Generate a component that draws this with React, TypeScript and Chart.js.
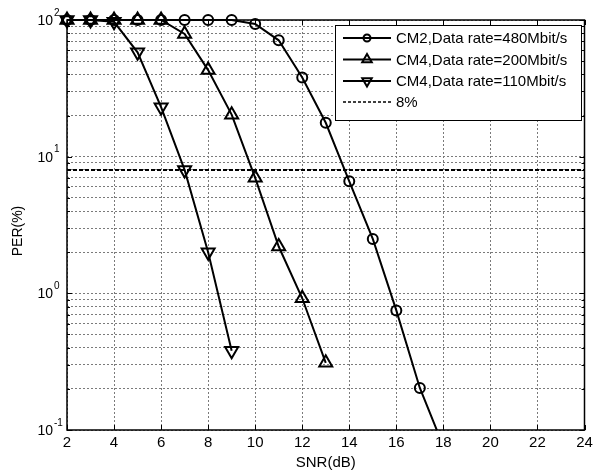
import React, { useEffect, useRef } from 'react';
import { Chart, registerables } from 'chart.js';

Chart.register(...registerables);

// SNR (dB) sample points and packet error rate (%) per configuration
const snrCm2 = [2, 3, 4, 5, 6, 7, 8, 9, 10, 11, 12, 13, 14, 15, 16, 17, 18];
const perCm2Rate480 = [100, 100, 100, 100, 100, 100, 100, 100, 93.5, 71, 38, 17.7, 6.6, 2.5, 0.75, 0.203, 0.076];

const snrCm4Rate200 = [2, 3, 4, 5, 6, 7, 8, 9, 10, 11, 12, 13];
const perCm4Rate200 = [100, 100, 100, 100, 100, 79, 43, 20.3, 7.0, 2.2, 0.92, 0.31];

const snrCm4Rate110 = [2, 3, 4, 5, 6, 7, 8, 9];
const perCm4Rate110 = [100, 100, 97, 58, 23, 8.0, 2.0, 0.38];

const thresholdPer = 8;

const xMin = 2;
const xMax = 24;
const xTicks = [2, 4, 6, 8, 10, 12, 14, 16, 18, 20, 22, 24];
const yDecades = [0.1, 1, 10, 100];
const yExponents = ['-1', '0', '1', '2'];
const mantissas = [1, 2, 3, 4, 5, 6, 7, 8, 9];

const legendLabels = [
  'CM2,Data rate=480Mbit/s',
  'CM4,Data rate=200Mbit/s',
  'CM4,Data rate=110Mbit/s',
  '8%',
];

const FONT = '"Liberation Sans", Arial, Helvetica, sans-serif';

const toPoints = (xs: number[], ys: number[]) => xs.map((x, i) => ({ x, y: ys[i] }));

function yTickValues(): number[] {
  const out: number[] = [];
  for (let d = 0; d < yDecades.length - 1; d++) {
    for (const m of mantissas) out.push(yDecades[d] * m);
  }
  out.push(yDecades[yDecades.length - 1]);
  return out;
}

function triangle(ctx: CanvasRenderingContext2D, cx: number, cy: number, r: number, down: boolean) {
  const s = down ? -1 : 1;
  ctx.beginPath();
  for (let k = 0; k < 3; k++) {
    const ang = (k * 2 * Math.PI) / 3;
    const px = cx + Math.sin(ang) * r;
    const py = cy - s * Math.cos(ang) * r;
    if (k === 0) ctx.moveTo(px, py);
    else ctx.lineTo(px, py);
  }
  ctx.closePath();
  ctx.stroke();
}

const framePlugin = {
  id: 'matlabFrame',
  afterDatasetsDraw(chart: any) {
    const { ctx, chartArea: a, scales } = chart;
    const xs = scales.x;
    const ys = scales.y;
    ctx.save();

    // inward tick marks on all four sides
    ctx.strokeStyle = '#000';
    ctx.lineWidth = 1;
    ctx.setLineDash([]);
    ctx.beginPath();
    for (const v of xTicks) {
      const px = Math.round(xs.getPixelForValue(v)) + 0.5;
      ctx.moveTo(px, a.bottom);
      ctx.lineTo(px, a.bottom - 5);
      ctx.moveTo(px, a.top);
      ctx.lineTo(px, a.top + 5);
    }
    for (const t of ys.ticks) {
      const py = Math.round(ys.getPixelForValue(t.value)) + 0.5;
      const major = yDecades.some((d) => Math.abs(d - t.value) < 1e-9);
      const len = major ? 5 : 3;
      ctx.moveTo(a.left, py);
      ctx.lineTo(a.left + len, py);
      ctx.moveTo(a.right, py);
      ctx.lineTo(a.right - len, py);
    }
    ctx.stroke();

    // legend box
    const lw = 246;
    const lh = 95;
    const lx = Math.round(a.right) - 4 - lw;
    const ly = Math.round(a.top) + 5;
    ctx.fillStyle = '#fff';
    ctx.fillRect(lx, ly, lw, lh);
    ctx.lineWidth = 1;
    ctx.strokeStyle = '#000';
    ctx.strokeRect(lx + 0.5, ly + 0.5, lw, lh);

    const rowY = [ly + 13, ly + 34.5, ly + 56, ly + 77];
    const sx0 = lx + 8;
    const sx1 = lx + 56;
    const mx = (sx0 + sx1) / 2;
    ctx.font = `15px ${FONT}`;
    ctx.textAlign = 'left';
    ctx.textBaseline = 'middle';
    rowY.forEach((y, i) => {
      ctx.strokeStyle = '#000';
      if (i < 3) {
        ctx.setLineDash([]);
        ctx.lineWidth = 2;
        ctx.beginPath();
        ctx.moveTo(sx0, y);
        ctx.lineTo(sx1, y);
        ctx.stroke();
        if (i === 0) {
          ctx.beginPath();
          ctx.arc(mx, y, 3.5, 0, Math.PI * 2);
          ctx.stroke();
        } else {
          triangle(ctx, mx, y, 5.5, i === 2);
        }
      } else {
        ctx.setLineDash([3, 2]);
        ctx.lineWidth = 1.5;
        ctx.beginPath();
        ctx.moveTo(sx0, y);
        ctx.lineTo(sx1, y);
        ctx.stroke();
        ctx.setLineDash([]);
      }
      ctx.fillStyle = '#000';
      ctx.fillText(legendLabels[i], lx + 61, y + 1);
    });

    // axes box
    ctx.setLineDash([]);
    ctx.lineWidth = 1.5;
    ctx.strokeStyle = '#000';
    ctx.strokeRect(a.left, a.top, a.right - a.left, a.bottom - a.top);

    // x tick labels
    ctx.fillStyle = '#000';
    ctx.font = `15px ${FONT}`;
    ctx.textAlign = 'center';
    ctx.textBaseline = 'middle';
    for (const v of xTicks) {
      ctx.fillText(String(v), xs.getPixelForValue(v), a.bottom + 13);
    }

    // y tick labels: 10 with superscript exponent
    yDecades.forEach((v, i) => {
      const py = ys.getPixelForValue(v);
      ctx.font = `14px ${FONT}`;
      ctx.textAlign = 'right';
      ctx.fillText('10', a.left - 14, py + 1);
      ctx.font = `10px ${FONT}`;
      ctx.textAlign = 'left';
      ctx.fillText(yExponents[i], a.left - 13, py - 7);
    });

    // axis titles
    ctx.font = `15px ${FONT}`;
    ctx.textAlign = 'center';
    ctx.fillText('SNR(dB)', (a.left + a.right) / 2, a.bottom + 33);
    ctx.save();
    ctx.translate(18, (a.top + a.bottom) / 2 + 6);
    ctx.rotate(-Math.PI / 2);
    ctx.font = `14px ${FONT}`;
    ctx.fillText('PER(%)', 0, 0);
    ctx.restore();

    ctx.restore();
  },
};

export default function App() {
  const canvasRef = useRef<HTMLCanvasElement | null>(null);

  useEffect(() => {
    if (!canvasRef.current) return;
    const seriesCommon = {
      borderColor: '#000',
      borderWidth: 2,
      pointBorderColor: '#000',
      pointBackgroundColor: 'rgba(0,0,0,0)',
      pointBorderWidth: 2,
      tension: 0,
      clip: { left: 12, top: 12, right: 0, bottom: 0 },
    };
    const gridOpts = {
      color: '#7a7a7a',
      lineWidth: 1,
      drawTicks: false,
      tickLength: 0,
    };
    const chart = new Chart(canvasRef.current, {
      type: 'line',
      data: {
        datasets: [
          {
            ...seriesCommon,
            label: legendLabels[3],
            data: [
              { x: xMin, y: thresholdPer },
              { x: xMax, y: thresholdPer },
            ],
            borderDash: [4, 2],
            pointRadius: 0,
            clip: 0,
          },
          {
            ...seriesCommon,
            label: legendLabels[0],
            data: toPoints(snrCm2, perCm2Rate480),
            pointStyle: 'circle',
            pointRadius: 5,
          },
          {
            ...seriesCommon,
            label: legendLabels[1],
            data: toPoints(snrCm4Rate200, perCm4Rate200),
            pointStyle: 'triangle',
            pointRadius: 7.5,
          },
          {
            ...seriesCommon,
            label: legendLabels[2],
            data: toPoints(snrCm4Rate110, perCm4Rate110),
            pointStyle: 'triangle',
            pointRotation: 180,
            pointRadius: 7.5,
          },
        ],
      },
      options: {
        responsive: false,
        animation: false,
        devicePixelRatio: 1,
        layout: { padding: { left: 0, right: 7, top: 20, bottom: 0 } },
        plugins: {
          legend: { display: false },
          tooltip: { enabled: false },
        },
        scales: {
          x: {
            type: 'linear',
            min: xMin,
            max: xMax,
            ticks: { stepSize: 2, display: false },
            grid: gridOpts,
            border: { display: false, dash: [2, 2] },
            afterFit: (scale: any) => {
              scale.height = 44;
            },
          },
          y: {
            type: 'logarithmic',
            min: yDecades[0],
            max: yDecades[yDecades.length - 1],
            ticks: { display: false },
            grid: gridOpts,
            border: { display: false, dash: [2, 2] },
            afterBuildTicks: (scale: any) => {
              scale.ticks = yTickValues().map((value) => ({ value }));
            },
            afterFit: (scale: any) => {
              scale.width = 67;
            },
          },
        },
      },
      plugins: [framePlugin],
    } as any);
    return () => chart.destroy();
  }, []);

  return (
    <div style={{ position: 'absolute', left: 0, top: 0, width: 594, height: 474, background: '#fff' }}>
      <canvas ref={canvasRef} width={594} height={474} style={{ display: 'block' }} />
    </div>
  );
}
